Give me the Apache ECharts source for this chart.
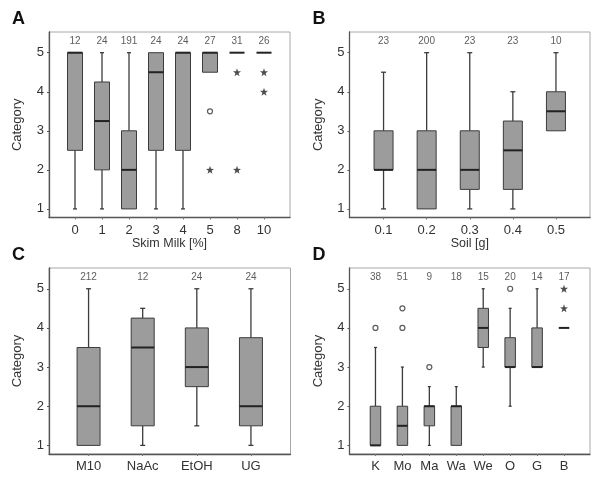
<!DOCTYPE html>
<html>
<head>
<meta charset="utf-8">
<script src="https://cdn.jsdelivr.net/npm/echarts@6/dist/echarts.min.js"></script>
<style>html,body{margin:0;padding:0;background:#fff}#c{width:600px;height:484px}</style>
</head>
<body>
<div id="c"></div>
<script>
// ---------- data ----------
const yTicks = [1, 2, 3, 4, 5];

// Panel A: Skim Milk [%]   box = [min, Q1, median, Q3, max]
const catsA = ['0', '1', '2', '3', '4', '5', '8', '10'];
const nA = [12, 24, 191, 24, 24, 27, 31, 26];
const boxA = [[1, 2.5, 5, 5, 5], [1, 2, 3.25, 4.25, 5], [1, 1, 2, 3, 5], [1, 2.5, 4.5, 5, 5],
              [1, 2.5, 5, 5, 5], [4.5, 4.5, 5, 5, 5], [5, 5, 5, 5, 5], [5, 5, 5, 5, 5]];
const circlesA = [['5', 3.5]];
const starsA = [['5', 2], ['8', 4.5], ['8', 2], ['10', 4.5], ['10', 4]];

// Panel B: Soil [g]
const catsB = ['0.1', '0.2', '0.3', '0.4', '0.5'];
const nB = [23, 200, 23, 23, 10];
const boxB = [[1, 2, 2, 3, 4.5], [1, 1, 2, 3, 5], [1, 1.5, 2, 3, 5], [1, 1.5, 2.5, 3.25, 4], [3, 3, 3.5, 4, 5]];
const circlesB = [];
const starsB = [];

// Panel C
const catsC = ['M10', 'NaAc', 'EtOH', 'UG'];
const nC = [212, 12, 24, 24];
const boxC = [[1, 1, 2, 3.5, 5], [1, 1.5, 3.5, 4.25, 4.5], [1.5, 2.5, 3, 4, 5], [1, 1.5, 2, 3.75, 5]];
const circlesC = [];
const starsC = [];

// Panel D
const catsD = ['K', 'Mo', 'Ma', 'Wa', 'We', 'O', 'G', 'B'];
const nD = [38, 51, 9, 18, 15, 20, 14, 17];
const boxD = [[1, 1, 1, 2, 3.5], [1, 1, 1.5, 2, 3], [1, 1.5, 2, 2, 2.5], [1, 1, 2, 2, 2.5],
              [3, 3.5, 4, 4.5, 5], [2, 3, 3, 3.75, 4.5], [3, 3, 3, 4, 5], [4, 4, 4, 4, 4]];
const circlesD = [['K', 4], ['Mo', 4], ['Mo', 4.5], ['Ma', 3], ['O', 5]];
const starsD = [['B', 4.5], ['B', 5]];

// ---------- layout / style ----------
const FONT = '"Liberation Sans", Arial, sans-serif';
const Y_MIN = 0.78, Y_MAX = 5.53, COUNT_Y = 5.3;
const STAR = 'path://M0,-10 L2.35,-3.24 9.51,-3.09 3.8,1.24 5.88,8.09 0,4 -5.88,8.09 -3.8,1.24 -9.51,-3.09 -2.35,-3.24Z';

const panels = [
  {letter: 'A', cats: catsA, n: nA, box: boxA, circles: circlesA, stars: starsA, xName: 'Skim Milk [%]',
   grid: {left: 49, top: 32, width: 241, height: 185.5}, boxW: 15, capW: 4},
  {letter: 'B', cats: catsB, n: nB, box: boxB, circles: circlesB, stars: starsB, xName: 'Soil [g]',
   grid: {left: 349.5, top: 32, width: 240.5, height: 185.5}, boxW: 19, capW: 5},
  {letter: 'C', cats: catsC, n: nC, box: boxC, circles: circlesC, stars: starsC, xName: '',
   grid: {left: 49, top: 268, width: 241.5, height: 186}, boxW: 23, capW: 5},
  {letter: 'D', cats: catsD, n: nD, box: boxD, circles: circlesD, stars: starsD, xName: '',
   grid: {left: 349.5, top: 268, width: 240.5, height: 186}, boxW: 10.5, capW: 3}
];

function makeRender(boxW, capW) {
  return function (params, api) {
    const x = api.value(0);
    const mn = api.value(1), q1 = api.value(2), md = api.value(3), q3 = api.value(4), mx = api.value(5);
    const cx = api.coord([x, md])[0];
    const Y = v => api.coord([x, v])[1];
    const wStyle = {stroke: '#3c3c3c', lineWidth: 1.3};
    const ch = [];
    if (mn < q1) {
      ch.push({type: 'line', shape: {x1: cx, y1: Y(q1), x2: cx, y2: Y(mn)}, style: wStyle});
      ch.push({type: 'line', shape: {x1: cx - capW / 2, y1: Y(mn), x2: cx + capW / 2, y2: Y(mn)}, style: wStyle});
    }
    if (mx > q3) {
      ch.push({type: 'line', shape: {x1: cx, y1: Y(q3), x2: cx, y2: Y(mx)}, style: wStyle});
      ch.push({type: 'line', shape: {x1: cx - capW / 2, y1: Y(mx), x2: cx + capW / 2, y2: Y(mx)}, style: wStyle});
    }
    if (q3 > q1) {
      ch.push({type: 'rect', shape: {x: cx - boxW / 2, y: Y(q3), width: boxW, height: Y(q1) - Y(q3)},
               style: {fill: '#9c9c9c', stroke: '#3c3c3c', lineWidth: 1}});
    }
    ch.push({type: 'line', shape: {x1: cx - boxW / 2, y1: Y(md), x2: cx + boxW / 2, y2: Y(md)},
             style: {stroke: '#222', lineWidth: 2}});
    return {type: 'group', children: ch};
  };
}

const grids = [], xAxes = [], yAxes = [], series = [], titles = [];
panels.forEach((p, gi) => {
  const nc = p.cats.length;
  const band = (p.grid.width - 25) / nc;
  const pad = 12.5 / band;
  const catIdx = p.cats.map((c, i) => i);
  grids.push(Object.assign({show: true, borderColor: '#a8a8a8', borderWidth: 1, backgroundColor: 'transparent'}, p.grid));
  titles.push({text: p.letter, left: p.grid.left - 37, top: p.grid.top - 22, padding: 0,
               textStyle: {fontSize: 18, fontWeight: 'bold', fontFamily: FONT, color: '#111'}});
  xAxes.push({
    gridIndex: gi, type: 'value', min: -0.5 - pad, max: nc - 0.5 + pad,
    axisLine: {show: true, onZero: false, lineStyle: {color: '#555', width: 1.3}},
    axisTick: {show: true, length: 2, customValues: catIdx, lineStyle: {color: '#777'}},
    splitLine: {show: false},
    axisLabel: {customValues: catIdx, formatter: v => p.cats[Math.round(v)],
                fontSize: 13, color: '#333', fontFamily: FONT, margin: 6},
    name: p.xName, nameLocation: 'middle', nameGap: 20,
    nameTextStyle: {fontSize: 12.5, color: '#333', fontFamily: FONT}
  });
  yAxes.push({
    gridIndex: gi, type: 'value', min: Y_MIN, max: Y_MAX,
    axisLine: {show: true, onZero: false, lineStyle: {color: '#555', width: 1.3}},
    axisTick: {show: true, length: 2, customValues: yTicks, lineStyle: {color: '#555'}},
    splitLine: {show: false},
    axisLabel: {customValues: yTicks, fontSize: 13, color: '#333', fontFamily: FONT, margin: 5},
    name: 'Category', nameLocation: 'middle', nameGap: 25,
    nameTextStyle: {fontSize: 13, color: '#333', fontFamily: FONT}
  });
  const idx = c => p.cats.indexOf(c);
  series.push({
    type: 'custom', xAxisIndex: gi, yAxisIndex: gi, renderItem: makeRender(p.boxW, p.capW),
    encode: {x: 0, y: [1, 2, 3, 4, 5]}, clip: false,
    data: p.box.map((b, i) => [i].concat(b)), z: 2
  });
  series.push({
    type: 'scatter', xAxisIndex: gi, yAxisIndex: gi, symbol: 'circle', symbolSize: 5,
    itemStyle: {color: '#fff', borderColor: '#333', borderWidth: 1.2},
    data: p.circles.map(o => [idx(o[0]), o[1]]), z: 3
  });
  series.push({
    type: 'scatter', xAxisIndex: gi, yAxisIndex: gi, symbol: STAR, symbolSize: 8,
    itemStyle: {color: '#222'},
    data: p.stars.map(o => [idx(o[0]), o[1]]), z: 3
  });
  series.push({
    type: 'scatter', xAxisIndex: gi, yAxisIndex: gi, symbolSize: 1,
    itemStyle: {color: 'rgba(0,0,0,0)'},
    label: {show: true, position: 'inside', formatter: q => String(q.value[2]),
            fontSize: 10, color: '#333', fontFamily: FONT},
    data: p.n.map((v, i) => [i, COUNT_Y, v]), z: 3
  });
});

const chart = echarts.init(document.getElementById('c'), null, {renderer: 'canvas'});
chart.setOption({
  animation: false,
  backgroundColor: '#fff',
  title: titles,
  grid: grids, xAxis: xAxes, yAxis: yAxes, series: series
});
</script>
</body>
</html>
